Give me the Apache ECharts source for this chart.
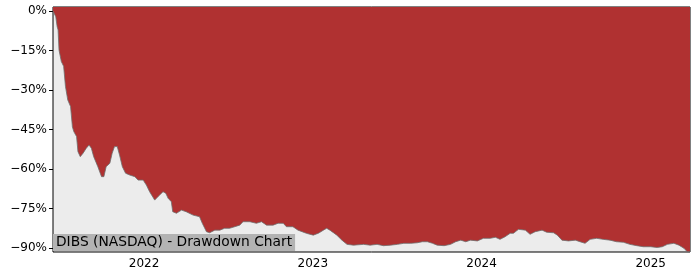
<!DOCTYPE html>
<html><head><meta charset="utf-8">
<script src="https://cdn.jsdelivr.net/npm/echarts@6/dist/echarts.min.js"></script>
<style>html,body{margin:0;padding:0;background:#fff}#c{width:700px;height:280px}</style>
</head><body><div id="c"></div>
<script>
const dates = ['2021-06-18','2021-06-24','2021-06-27','2021-06-29','2021-07-01','2021-07-06','2021-07-11','2021-07-15','2021-07-20','2021-07-26','2021-07-30','2021-08-02','2021-08-08','2021-08-11','2021-08-16','2021-08-22','2021-08-29','2021-09-04','2021-09-09','2021-09-14','2021-09-23','2021-10-01','2021-10-06','2021-10-11','2021-10-19','2021-10-24','2021-10-29','2021-11-04','2021-11-09','2021-11-15','2021-11-22','2021-12-01','2021-12-12','2021-12-19','2021-12-30','2022-01-06','2022-01-13','2022-01-24','2022-01-31','2022-02-11','2022-02-17','2022-02-22','2022-03-01','2022-03-04','2022-03-12','2022-03-23','2022-04-02','2022-04-17','2022-05-01','2022-05-07','2022-05-16','2022-05-23','2022-06-03','2022-06-14','2022-06-24','2022-07-05','2022-07-16','2022-07-27','2022-08-03','2022-08-18','2022-09-01','2022-09-12','2022-09-23','2022-10-07','2022-10-18','2022-10-29','2022-11-05','2022-11-19','2022-11-30','2022-12-18','2023-01-02','2023-01-13','2023-01-24','2023-01-31','2023-02-07','2023-02-22','2023-03-05','2023-03-16','2023-03-30','2023-04-21','2023-05-05','2023-05-20','2023-06-03','2023-06-18','2023-07-03','2023-07-17','2023-08-01','2023-08-15','2023-08-26','2023-09-06','2023-09-17','2023-09-27','2023-10-12','2023-10-26','2023-11-06','2023-11-17','2023-11-28','2023-12-08','2023-12-23','2024-01-05','2024-01-20','2024-01-31','2024-02-10','2024-02-21','2024-03-03','2024-03-10','2024-03-21','2024-04-05','2024-04-15','2024-04-26','2024-05-11','2024-05-21','2024-06-05','2024-06-13','2024-06-23','2024-07-07','2024-07-22','2024-08-01','2024-08-12','2024-08-23','2024-09-06','2024-09-20','2024-10-05','2024-10-19','2024-11-03','2024-11-17','2024-12-02','2024-12-16','2025-01-01','2025-01-15','2025-01-26','2025-02-06','2025-02-20','2025-03-03','2025-03-14','2025-03-21','2025-03-27'];
const drawdown = [0,-2.2,-6,-7.2,-14.8,-19.2,-21,-28.7,-33.8,-36.3,-44,-45.8,-47.7,-53.4,-55.3,-54,-52.1,-50.9,-52.1,-55.3,-59.1,-62.9,-62.9,-59.1,-57.8,-54,-51.5,-51.5,-54.7,-59.1,-61.6,-62.3,-62.9,-64.2,-64.2,-66.1,-68.6,-71.8,-70.5,-68.6,-69.2,-71.1,-72.4,-76.2,-76.8,-75.6,-76.2,-77.5,-78.1,-80.6,-83.8,-84.2,-83.2,-83.2,-82.5,-82.5,-81.9,-81.3,-80,-80,-80.6,-80,-81.3,-81.3,-80.6,-80.6,-81.9,-81.9,-83.2,-84.4,-85.1,-84.4,-83.2,-82.5,-83.2,-85.1,-87,-88.6,-88.9,-88.6,-88.9,-88.6,-89.1,-88.9,-88.6,-88.2,-88.2,-88,-87.6,-87.6,-88.2,-88.9,-89.1,-88.6,-87.6,-87,-87.6,-87,-87.3,-86.3,-86.3,-85.9,-86.7,-85.7,-84.4,-84.4,-82.9,-83.2,-84.8,-83.8,-83.2,-84,-84.2,-85.1,-87,-87.3,-87,-87.6,-88.2,-86.7,-86.3,-86.7,-87,-87.6,-87.8,-88.6,-89.1,-89.5,-89.5,-89.8,-89.5,-88.6,-88.2,-88.9,-90.1,-91.4,-91.4];
const xTickLabels = ['2022','2023','2024','2025'];
const yTicks = [0,-15,-30,-45,-60,-75,-90];
const title = 'DIBS (NASDAQ) - Drawdown Chart';

const ts = d => Date.parse(d + 'T00:00:00Z');
const xTickValues = xTickLabels.map(y => ts(y + '-01-01'));
const seriesData = dates.map((d, i) => [ts(d), drawdown[i]]);
const font = 'DejaVu Sans';

const chart = echarts.init(document.getElementById('c'), null, {renderer: 'canvas'});
chart.setOption({
  animation: false,
  grid: {left: 53, right: 10, top: 7, bottom: 28, show: true, backgroundColor: '#ececec', borderColor: '#000', borderWidth: 1},
  xAxis: {
    type: 'value',
    min: ts(dates[0]), max: ts(dates[dates.length - 1]),
    splitLine: {show: false},
    axisLine: {show: false},
    axisTick: {show: true, customValues: xTickValues, length: 4, lineStyle: {color: '#000'}},
    axisLabel: {customValues: xTickValues, formatter: v => xTickLabels[xTickValues.indexOf(v)] || '', color: '#000', fontFamily: font, fontSize: 12, margin: 6}
  },
  yAxis: {
    type: 'value',
    min: -91.5, max: 1.5,
    splitLine: {show: false},
    axisLine: {show: false},
    axisTick: {show: true, customValues: yTicks, length: 4, lineStyle: {color: '#000'}},
    axisLabel: {customValues: yTicks, formatter: v => (v < 0 ? '\u2212' + (-v) : v) + '%', color: '#000', fontFamily: font, fontSize: 12, margin: 6}
  },
  series: [{
    type: 'line',
    data: seriesData,
    showSymbol: false,
    lineStyle: {color: '#6e6e6e', width: 0.8},
    areaStyle: {color: '#b03131', opacity: 1, origin: 'end'},
    z: 2
  }],
  graphic: [{
    type: 'text',
    left: 53, top: 234,
    style: {text: title, font: '13.8px "DejaVu Sans"', fill: '#000', backgroundColor: '#b3b3b3', padding: [1, 3, 2, 3]},
    z: 10
  }]
});
</script></body></html>
